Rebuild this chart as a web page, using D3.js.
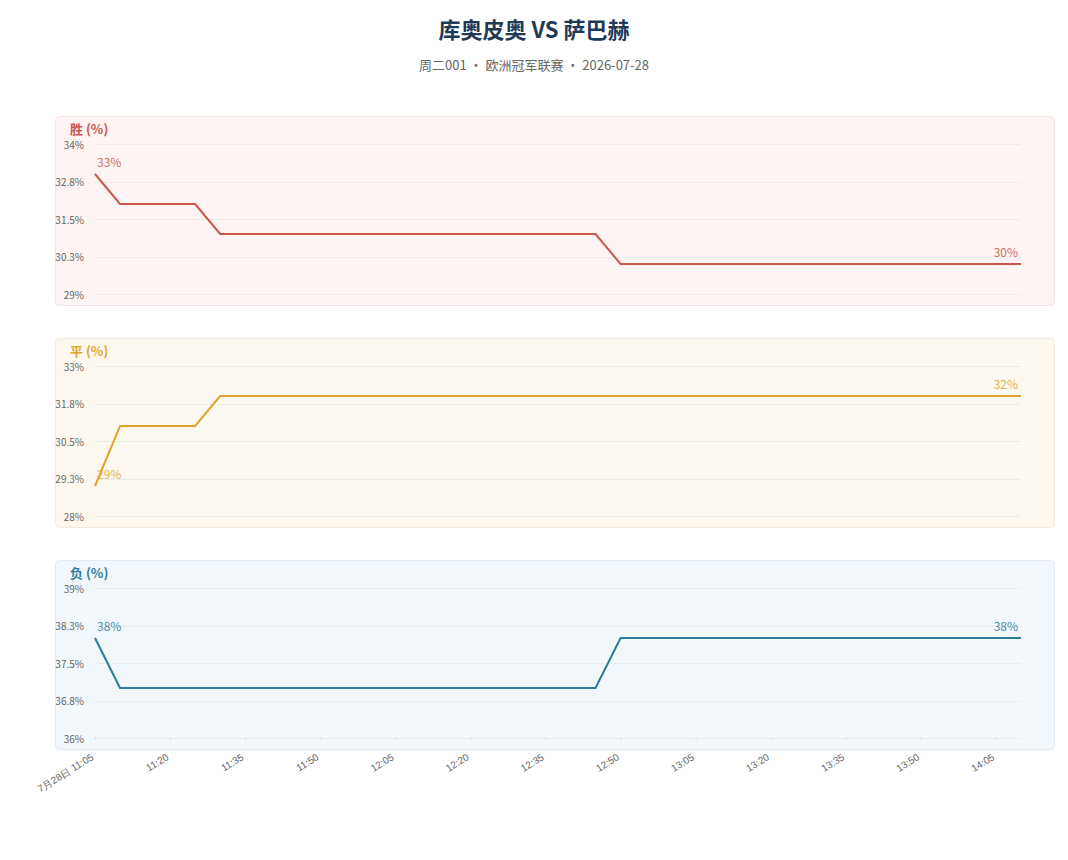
<!DOCTYPE html>
<html>
<head>
<meta charset="utf-8">
<script src="https://cdn.jsdelivr.net/npm/d3@7"></script>
<style>
  body { margin: 0; background: #fff; font-family: "Noto Sans CJK SC", "Noto Sans", sans-serif; }
</style>
</head>
<body>
<div id="chart"></div>
<script>
// data
let times = ["11:05", "11:10", "11:25", "11:30", "12:45", "12:50", "14:10"];
let winValues = [33, 32, 32, 31, 31, 30, 30];
let drawValues = [29, 31, 31, 32, 32, 32, 32];
let loseValues = [38, 37, 37, 37, 37, 38, 38];
let panelLabels = ["胜 (%)", "平 (%)", "负 (%)"];
let title = "库奥皮奥 VS 萨巴赫";
let subtitle = "周二001 · 欧洲冠军联赛 · 2026-07-28";

let width = 1068, height = 860;
let margin = { left: 95, right: 47 };

let panels = [
    { label: panelLabels[0], values: winValues, color: "#c9574a", bg: "#fdf4f3", border: "#f3e4e2", top: 116 },
    { label: panelLabels[1], values: drawValues, color: "#e3a32e", bg: "#fdf9f1", border: "#f3ebdc", top: 338 },
    { label: panelLabels[2], values: loseValues, color: "#2b7d9c", bg: "#f2f7fc", border: "#e2eaf2", top: 560 }
];
let panelH = 189;

let parseTime = d3.timeParse("%Y-%m-%d %H:%M");
let dates = times.map(t => parseTime("2026-07-28 " + t));

let svg = d3.select("#chart")
    .append("svg")
    .attr("width", width)
    .attr("height", height);

svg.append("text")
    .attr("x", width / 2)
    .attr("y", 38)
    .attr("text-anchor", "middle")
    .style("font-size", "22px")
    .style("font-weight", "bold")
    .style("fill", "#1f3a56")
    .text(title);

svg.append("text")
    .attr("x", width / 2)
    .attr("y", 70)
    .attr("text-anchor", "middle")
    .style("font-size", "13px")
    .style("fill", "#666")
    .text(subtitle);

let x = d3.scaleTime()
    .domain(d3.extent(dates))
    .range([margin.left, width - margin.right]);

let fmt = v => (+v.toFixed(1)) + "%";

panels.forEach(function (p, i) {
    let g = svg.append("g");

    g.append("rect")
        .attr("x", 55.5)
        .attr("y", p.top + 0.5)
        .attr("width", 999)
        .attr("height", panelH)
        .attr("rx", 4)
        .style("fill", p.bg)
        .style("stroke", p.border);

    g.append("text")
        .attr("x", 70)
        .attr("y", p.top + 18)
        .style("font-size", "13px")
        .style("font-weight", "bold")
        .style("fill", p.color)
        .text(p.label);

    let lo = d3.min(p.values) - 1, hi = d3.max(p.values) + 1;
    let y = d3.scaleLinear()
        .domain([lo, hi])
        .range([p.top + 178, p.top + 28]);

    let ticks = d3.range(5).map(k => lo + (hi - lo) * k / 4);

    g.selectAll(".grid")
        .data(ticks)
        .enter()
        .append("line")
        .attr("x1", margin.left)
        .attr("x2", width - margin.right)
        .attr("y1", d => Math.round(y(d)) + 0.5)
        .attr("y2", d => Math.round(y(d)) + 0.5)
        .style("stroke", "#ebebeb");

    g.selectAll(".ytick")
        .data(ticks)
        .enter()
        .append("text")
        .attr("x", 84)
        .attr("y", d => y(d) + 1)
        .attr("dy", "0.35em")
        .attr("text-anchor", "end")
        .style("font-size", "10px")
        .style("fill", "#666")
        .text(fmt);

    let line = d3.line()
        .x((d, j) => x(dates[j]))
        .y(d => y(d));

    g.append("path")
        .datum(p.values)
        .attr("d", line)
        .style("fill", "none")
        .style("stroke", p.color)
        .style("stroke-width", 2);

    let n = p.values.length - 1;
    g.append("text")
        .attr("x", x(dates[0]) + 2)
        .attr("y", y(p.values[0]) - 11)
        .attr("dy", "0.35em")
        .style("font-size", "12px")
        .style("fill", p.color)
        .style("opacity", 0.85)
        .text(p.values[0] + "%");

    g.append("text")
        .attr("x", x(dates[n]) - 3)
        .attr("y", y(p.values[n]) - 11)
        .attr("dy", "0.35em")
        .attr("text-anchor", "end")
        .style("font-size", "12px")
        .style("fill", p.color)
        .style("opacity", 0.85)
        .text(p.values[n] + "%");

    // x axis on the last panel only
    if (i === panels.length - 1) {
        let tickDates = d3.timeMinute.range(dates[0], dates[n], 5)
            .filter(d => (d.getMinutes() % 15) === 5);
        let xAxis = d3.axisBottom(x)
            .tickValues(tickDates)
            .tickSize(3)
            .tickFormat((d, k) => k === 0 ? d3.timeFormat("%-m月%-d日 %H:%M")(d) : d3.timeFormat("%H:%M")(d));
        let ax = g.append("g")
            .attr("transform", "translate(0," + (Math.round(y(lo)) - 1) + ")")
            .call(xAxis);
        ax.select(".domain").remove();
        ax.selectAll(".tick line").style("stroke", "#ddd");
        ax.selectAll(".tick text")
            .style("font-size", "10px")
            .style("fill", "#666")
            .attr("text-anchor", "end")
            .attr("x", 0)
            .attr("y", 0)
            .attr("dy", "0.35em")
            .attr("transform", "translate(-3,19) rotate(-32)");
    }
});
</script>
</body>
</html>
